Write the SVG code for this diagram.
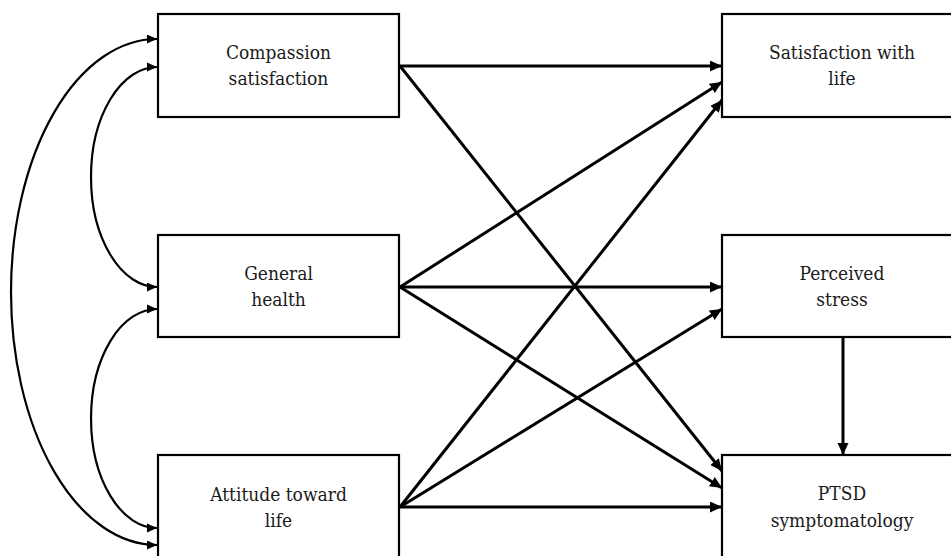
<svg xmlns="http://www.w3.org/2000/svg" width="951" height="556" viewBox="0 0 951 556">
<defs>
<style>
.box{fill:#fff;stroke:#000;stroke-width:2.2}
.lbl{font-family:"DejaVu Serif Condensed","DejaVu Serif",serif;font-stretch:condensed;font-size:19px;fill:#1a1a1a;text-anchor:middle}
.path{fill:none;stroke:#000;stroke-width:3}
.cov{fill:none;stroke:#000;stroke-width:2.2}
</style>
<marker id="ah" markerUnits="userSpaceOnUse" markerWidth="13" markerHeight="12" refX="12" refY="5.5" orient="auto">
<path d="M0,0 L12,5.5 L0,11 Z" fill="#000"/>
</marker>
<marker id="ahs" markerUnits="userSpaceOnUse" markerWidth="11" markerHeight="10" refX="10" refY="4.5" orient="auto-start-reverse">
<path d="M0,0 L10,4.5 L0,9 Z" fill="#000"/>
</marker>
</defs>
<rect width="951" height="556" fill="#fff"/>
<g id="n-compassion">
<rect class="box" x="158" y="14" width="241" height="103"/>
<text class="lbl" x="278.5" y="59">Compassion</text>
<text class="lbl" x="278.5" y="85">satisfaction</text>
</g>
<g id="n-general">
<rect class="box" x="158" y="235" width="241" height="102"/>
<text class="lbl" x="278.5" y="280">General</text>
<text class="lbl" x="278.5" y="306">health</text>
</g>
<g id="n-attitude">
<rect class="box" x="158" y="455" width="241" height="103"/>
<text class="lbl" x="278.5" y="501">Attitude toward</text>
<text class="lbl" x="278.5" y="527">life</text>
</g>
<g id="n-satisfaction">
<rect class="box" x="722" y="14" width="241" height="103"/>
<text class="lbl" x="842" y="59">Satisfaction with</text>
<text class="lbl" x="842" y="85">life</text>
</g>
<g id="n-stress">
<rect class="box" x="722" y="235" width="241" height="102"/>
<text class="lbl" x="842" y="280">Perceived</text>
<text class="lbl" x="842" y="306">stress</text>
</g>
<g id="n-ptsd">
<rect class="box" x="722" y="455" width="241" height="103"/>
<text class="lbl" x="842" y="500">PTSD</text>
<text class="lbl" x="842" y="527">symptomatology</text>
</g>
<g id="connectors">
<line class="path" x1="400" y1="66" x2="722" y2="66" marker-end="url(#ah)"/>
<line class="path" x1="400" y1="66" x2="722" y2="471" marker-end="url(#ah)"/>
<line class="path" x1="400" y1="287" x2="722" y2="82" marker-end="url(#ah)"/>
<line class="path" x1="400" y1="287" x2="722" y2="287" marker-end="url(#ah)"/>
<line class="path" x1="400" y1="287" x2="722" y2="488" marker-end="url(#ah)"/>
<line class="path" x1="400" y1="507" x2="722" y2="100" marker-end="url(#ah)"/>
<line class="path" x1="400" y1="507" x2="722" y2="309" marker-end="url(#ah)"/>
<line class="path" x1="400" y1="507" x2="722" y2="507" marker-end="url(#ah)"/>
<line class="path" x1="843" y1="337" x2="843" y2="455" marker-end="url(#ah)"/>
<path class="cov" d="M157,39 A146,253 0 0 0 157,545" marker-start="url(#ahs)" marker-end="url(#ahs)"/>
<path class="cov" d="M157,67 A66,110 0 0 0 157,287" marker-start="url(#ahs)" marker-end="url(#ahs)"/>
<path class="cov" d="M157,309 A66,109.5 0 0 0 157,528" marker-start="url(#ahs)" marker-end="url(#ahs)"/>
</g>
</svg>
